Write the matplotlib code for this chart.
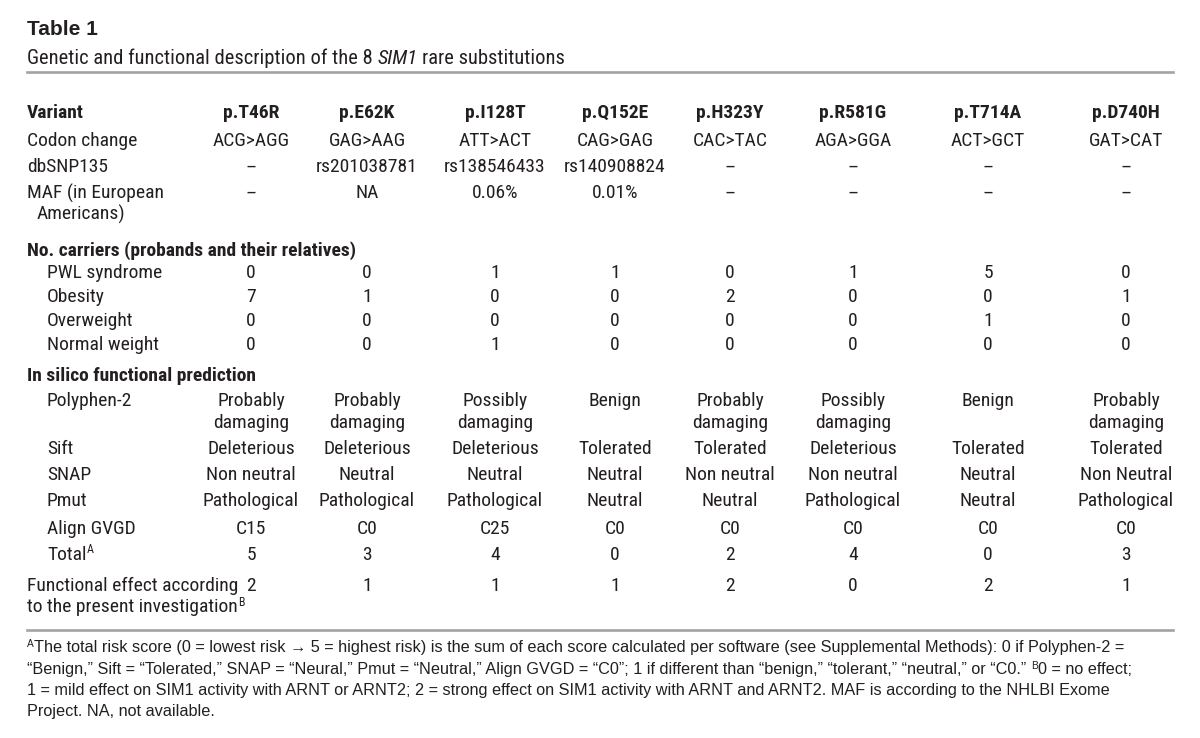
import matplotlib
matplotlib.use("Agg")
import matplotlib.pyplot as plt
from matplotlib.lines import Line2D

# ---- donnees du tableau ----
variants = ["p.T46R", "p.E62K", "p.I128T", "p.Q152E", "p.H323Y", "p.R581G", "p.T714A", "p.D740H"]
codon = ["ACG>AGG", "GAG>AAG", "ATT>ACT", "CAG>GAG", "CAC>TAC", "AGA>GGA", "ACT>GCT", "GAT>CAT"]
dbsnp = ["–", "rs201038781", "rs138546433", "rs140908824", "–", "–", "–", "–"]
maf = ["–", "NA", "0.06%", "0.01%", "–", "–", "–", "–"]
pwl = [0, 0, 1, 1, 0, 1, 5, 0]
obesity = [7, 1, 0, 0, 2, 0, 0, 1]
overweight = [0, 0, 0, 0, 0, 0, 1, 0]
normal_weight = [0, 0, 1, 0, 0, 0, 0, 0]
polyphen = ["Probably\ndamaging", "Probably\ndamaging", "Possibly\ndamaging", "Benign",
            "Probably\ndamaging", "Possibly\ndamaging", "Benign", "Probably\ndamaging"]
sift = ["Deleterious", "Deleterious", "Deleterious", "Tolerated", "Tolerated", "Deleterious", "Tolerated", "Tolerated"]
snap = ["Non neutral", "Neutral", "Neutral", "Neutral", "Non neutral", "Non neutral", "Neutral", "Non Neutral"]
pmut = ["Pathological", "Pathological", "Pathological", "Neutral", "Neutral", "Pathological", "Neutral", "Pathological"]
gvgd = ["C15", "C0", "C25", "C0", "C0", "C0", "C0", "C0"]
total = [5, 3, 4, 0, 2, 4, 0, 3]
effect = [2, 1, 1, 1, 2, 0, 2, 1]

W, H = 1200, 738
INK = "#231f20"
NARROW = ["Roboto Condensed", "Liberation Sans Narrow", "Roboto", "DejaVu Sans"]
SANS = ["Liberation Sans", "DejaVu Sans"]
BODY = 14.0
BOLD = 14.0

fig = plt.figure(figsize=(W / 100, H / 100), dpi=100)
renderer = fig.canvas.get_renderer()


def put(x, y, s, size=BODY, weight="normal", ha="left", family=NARROW, style="normal"):
    # x, y en pixels depuis le coin haut gauche (y = ligne de base)
    return fig.text(x / W, 1 - y / H, s, fontsize=size, fontweight=weight, ha=ha,
                    va="baseline", family=family, style=style, color=INK)


def width(s, size, family, style="normal"):
    t = put(0, 0, s, size=size, family=family, style=style)
    w = t.get_window_extent(renderer).width
    t.remove()
    return w


def runs(x, y, parts, size, family):
    # morceaux de texte enchaines : 'n' normal, 'i' italique, 's' exposant
    # les espaces en bord de morceau sont comptes a part (l'emprise du texte les ignore)
    for s, kind in parts:
        sz = size * 0.62 if kind == "s" else size
        st = "italic" if kind == "i" else "normal"
        sp = width("x x", sz, family) - width("xx", sz, family)
        core = s.strip(" ")
        x += sp * (len(s) - len(s.lstrip(" ")))
        yy = y - size * 0.45 if kind == "s" else y
        t = put(x, yy, core, size=sz, family=family, style=st)
        x += t.get_window_extent(renderer).width
        x += sp * (len(s) - len(s.rstrip(" ")))
    return x


def rule(y):
    fig.add_artist(Line2D([27 / W, 1173 / W], [1 - y / H, 1 - y / H], color="#a3a3a3", lw=1.9))


cols = [251, 367, 495, 615, 730, 853, 988, 1126]
LX, IX = 27, 47

# titre
put(27, 35, "Table 1", size=15, weight="bold", family=SANS)
runs(27, 64, [("Genetic and functional description of the 8 ", "n"), ("SIM1", "i"),
              (" rare substitutions", "n")], 14.8, NARROW)
rule(72)

# en-tete
put(LX, 118, "Variant", size=BOLD, weight="bold")
for c, v in zip(cols, variants):
    put(c, 118, v, size=BOLD, weight="bold", ha="center")


def row(y, label, values, x0=LX):
    put(x0, y, label)
    for c, v in zip(cols, values):
        put(c, y, str(v), ha="center")


row(146.5, "Codon change", codon)
row(172.5, "dbSNP135", dbsnp)
row(198.5, "MAF (in European", maf)
put(37, 220, "Americans)")

put(LX, 255.5, "No. carriers (probands and their relatives)", size=BOLD, weight="bold")
row(278.5, "PWL syndrome", pwl, IX)
row(302.5, "Obesity", obesity, IX)
row(325.5, "Overweight", overweight, IX)
row(349.5, "Normal weight", normal_weight, IX)

put(LX, 381.5, "In silico functional prediction", size=BOLD, weight="bold")
put(IX, 406.5, "Polyphen-2")
for c, v in zip(cols, polyphen):
    for k, line in enumerate(v.split("\n")):
        put(c, 406.5 + 22 * k, line, ha="center")
row(454.5, "Sift", sift, IX)
row(480.5, "SNAP", snap, IX)
row(506.5, "Pmut", pmut, IX)
row(533.5, "Align GVGD", gvgd, IX)
runs(IX, 559.5, [("Total", "n"), ("A", "s")], BODY, NARROW)
for c, v in zip(cols, total):
    put(c, 559.5, str(v), ha="center")

put(LX, 591, "Functional effect according")
runs(LX, 612, [("to the present investigation", "n"), ("B", "s")], BODY, NARROW)
for c, v in zip(cols, effect):
    put(c, 591, str(v), ha="center")
rule(630)

# notes
FN = 11.7
runs(27, 652, [("A", "s"), ("The total risk score (0 = lowest risk → 5 = highest risk) is the sum of each score "
                            "calculated per software (see Supplemental Methods): 0 if Polyphen-2 =", "n")], FN, SANS)
runs(27, 674, [("“Benign,” Sift = “Tolerated,” SNAP = “Neural,” Pmut = “Neutral,” Align GVGD = “C0”; "
                "1 if different than “benign,” “tolerant,” “neutral,” or “C0.” ", "n"), ("B", "s"),
               ("0 = no effect;", "n")], FN, SANS)
put(27, 695, "1 = mild effect on SIM1 activity with ARNT or ARNT2; 2 = strong effect on SIM1 activity "
             "with ARNT and ARNT2. MAF is according to the NHLBI Exome", size=FN, family=SANS)
put(27, 716, "Project. NA, not available.", size=FN, family=SANS)

fig.savefig("out.png", dpi=100)
